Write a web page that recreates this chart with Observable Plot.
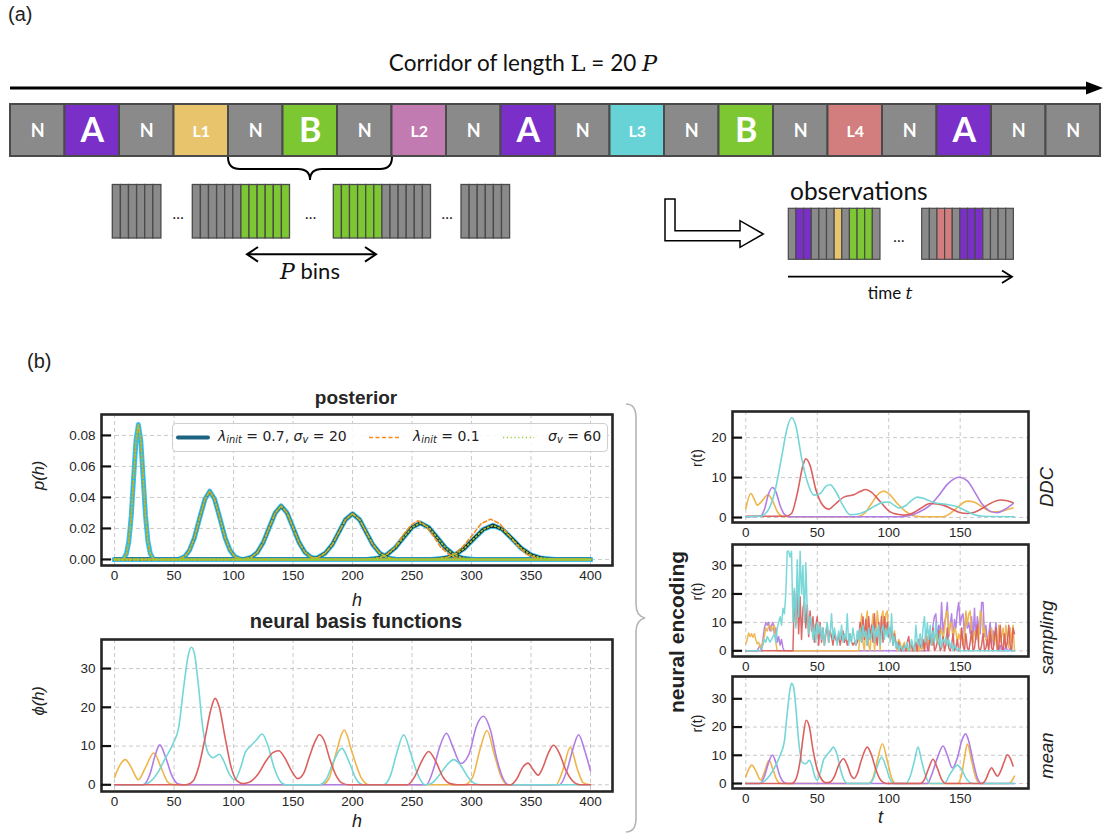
<!DOCTYPE html>
<html><head><meta charset="utf-8">
<script src="https://cdn.jsdelivr.net/npm/d3@7"></script>
<script src="https://cdn.jsdelivr.net/npm/@observablehq/plot@0.6"></script>
<style>
html,body{margin:0;padding:0;background:#fff;}
#root{position:relative;width:1109px;height:836px;overflow:hidden;font-family:"Liberation Sans",Arial,sans-serif;color:#222;}
.lbl{position:absolute;white-space:nowrap;line-height:1;}
.plotsvg{position:absolute;overflow:visible;}
sub{font-size:70%;vertical-align:-0.25em;}
</style></head>
<body><div id="root"></div>
<script>
// ---------------- DATA ----------------
// (a) corridor
const corridorLabels = ["N","A","N","L1","N","B","N","L2","N","A","N","L3","N","B","N","L4","N","A","N","N"];
const segColor = {N:"#8a8a8a", A:"#7b2fc9", B:"#7dc832", L1:"#e8c56c", L2:"#c27bb0", L3:"#67d3d6", L4:"#d37e7e"};
const binGroups = [
  ["N","N","N","N","N","N"],
  ["N","N","N","N","N","N","B","B","B","B","B","B"],
  ["B","B","B","B","B","B","N","N","N","N","N","N"],
  ["N","N","N","N","N","N"]
];
const obsGroups = [
  ["N","A","A","N","N","N","L1","N","B","B","B","N"],
  ["N","N","L4","L4","N","A","A","A","N","N","N","N"]
];

// (b) posterior p(h): six bumps, [h, p]
const postMain = [
  [[0,0],[7,0],[8,0.001],[10,0.0038],[12,0.0118],[14,0.0281],[16,0.0528],[18,0.0768],[20,0.087],[22,0.0768],[24,0.0528],[26,0.0281],[28,0.0118],[30,0.0038],[32,0.001],[33,0],[400,0]],
  [[0,0],[53,0],[55,0.0004],[59,0.0019],[63,0.006],[67,0.0138],[71.5,0.0267],[76,0.039],[80,0.044],[84,0.039],[88.5,0.0267],[93,0.0138],[97,0.006],[101,0.0019],[105,0.0004],[107,0],[400,0]],
  [[0,0],[108,0],[110,0.0004],[115,0.0015],[120,0.0046],[125,0.011],[130,0.0206],[135,0.030],[140,0.0345],[145,0.030],[150,0.0206],[155,0.011],[160,0.0046],[165,0.0015],[170,0.0004],[173,0],[400,0]],
  [[0,0],[163,0],[166,0.0004],[171,0.0013],[177,0.004],[183,0.0096],[188.5,0.0176],[194,0.0256],[200,0.0295],[206,0.0256],[211.5,0.0176],[217,0.0096],[223,0.004],[229,0.0013],[234,0.0004],[237,0],[400,0]],
  [[0,0],[212,0],[215,0.0003],[222,0.001],[229,0.0032],[236,0.0076],[243,0.0143],[250,0.0207],[257,0.0235],[264,0.0207],[271,0.0143],[278,0.0076],[285,0.0032],[292,0.001],[299,0.0003],[303,0],[400,0]],
  [[0,0],[266,0],[270,0.0003],[278,0.001],[286,0.003],[294,0.0071],[302,0.0134],[310,0.0194],[318,0.022],[326,0.0194],[334,0.0134],[342,0.0071],[350,0.003],[358,0.001],[366,0.0003],[370,0],[400,0]]
];
const postLowLambda = [
  postMain[0], postMain[1], postMain[2], postMain[3],
  [[0,0],[214,0],[217,0.0003],[223,0.001],[229,0.0034],[236,0.008],[242,0.0152],[249,0.022],[255,0.025],[261,0.022],[268,0.0152],[274,0.008],[281,0.0034],[287,0.001],[293,0.0003],[296,0],[400,0]],
  [[0,0],[268,0],[271,0.0003],[278,0.001],[286,0.0035],[293,0.0085],[301,0.016],[308,0.023],[316,0.026],[324,0.023],[331,0.016],[339,0.0085],[346,0.0035],[354,0.001],[361,0.0003],[364,0],[400,0]]
];
const postWideSigma = postMain;
const postBumpColors = ["#2ab4e6","#2a93bb","#237493","#1e5c74","#1b4150","#1a2c33"];

// neural basis functions phi(h), [h, phi]
const basisYellow = [[0,1.9],[4,4.8],[9,6.5],[14,4.5],[20,1.3],[26,4.5],[33,8.2],[39,4.5],[44,1],[48,0.1],[52,0],[174,0],[180,1.5],[186,8],[193,14.1],[200,8],[207,2],[214,0],[294,0],[301,2],[307,9],[313,14],[319,8],[325,2],[331,0],[371,0],[377,4],[383,9.7],[389,4],[394,0.5],[400,0]];
const basisPurple = [[0,0],[24,0],[30,3],[34,7.5],[38,10.3],[43,7],[48,2.5],[53,0.3],[58,0],[262,0],[268,4],[273,9.5],[279,13.3],[284,10],[291,5.5],[298,8],[304,15],[310,17.7],[316,14],[321,7],[326,2],[331,0],[374,0],[380,3.5],[385,9],[390,12.9],[395,9],[400,3.6]];
const basisCyan = [[0,0],[24,0],[30,0.8],[36,3],[42,6.5],[49,10.5],[54,15],[58,25],[62,33.5],[64.5,35.5],[67,34],[70,27],[74,15],[79,8],[83,7],[88,7.9],[92,6],[96,3],[101,1.3],[106,4.5],[110,8.5],[114,9.9],[119,11.5],[124,13.1],[129,10],[134,4.5],[139,1],[144,0],[172,0],[178,1.5],[184,6],[191,9.4],[197,6],[203,1.5],[209,0],[226,0],[232,2.5],[237,8],[243,12.9],[249,8],[255,2.5],[261,0],[267,0.5],[273,2.5],[279,5],[285,6.5],[291,5],[297,2],[303,0.3],[308,0],[400,0]];
const basisRed = [[0,0],[60,0],[66,1],[71,5],[76,12],[81,19.5],[84.5,22.3],[88,20],[93,12],[98,4.5],[103,1],[108,0.3],[112,0.5],[120,2.5],[127,6],[133,8.3],[138,8.8],[143,7],[148,4],[154,1.6],[159,3],[164,7.5],[169,11.5],[172,12.9],[176,11.5],[181,6.5],[186,2.5],[191,0.5],[197,0],[246,0],[252,2],[258,6],[264,8.6],[270,6],[276,2],[282,0.3],[288,0],[333,0],[338,1.5],[343,4.5],[347.5,5.6],[352,3.8],[356,2.5],[360,4.5],[365,8.5],[369,10.2],[374,8],[379,4],[385,1],[391,0],[400,0]];

// DDC r(t), [t, r]
const ddcCyan = [[0,0.2],[10,0.3],[15,1.5],[20,6],[25,15],[29,22.5],[32,25],[35,23],[39,15],[43,9],[47.7,5.6],[52,6],[56,7.8],[59,8.2],[63,6.5],[68,3],[73,0.7],[78,0.8],[84,1.6],[90,2.8],[96,3.8],[100,3.9],[104,3],[107,2.4],[112,3],[116,4.3],[120,5.1],[126,4.6],[132,3.7],[140,3.3],[148,2.7],[155,1.5],[160,0.7],[166,0.3],[188,0.2]];
const ddcRed = [[0,0.3],[28,0.3],[32,1],[36,6],[40,13],[42,14.7],[45,13],[49,7],[53,3.5],[58,2.1],[63,3.5],[68.6,5.1],[75.6,5.7],[80,6.5],[84,7],[88,6.3],[94,4],[101,1.4],[106,0.8],[110.5,0.6],[116,1],[122,2.2],[129,3.5],[134,3.4],[138,3.1],[145,2],[150,1.2],[155,1.0],[160,1.3],[165,2.2],[171,3.5],[178,4.4],[183,4.2],[187,3.7]];
const ddcYellow = [[0,2.2],[3.5,6],[6,4.5],[8,3.1],[11,4],[15.6,5.7],[19,4],[22,1.5],[25.6,0.3],[30,0.2],[78,0.2],[83,1],[88,3.5],[93,6],[96.5,6.6],[100,6],[106,3.5],[112,1.5],[118,0.4],[124,0.2],[138,0.2],[143,1],[148,2.5],[155,4.1],[160,3.8],[166,2.5],[172,1.4],[178,1.5],[183,2],[187,2.4]];
const ddcPurple = [[0,0.2],[10,0.3],[13,2],[16,6],[18.6,7.5],[21,6.5],[24,3],[27,0.8],[30,0.2],[108,0.2],[115,0.5],[122,1.5],[129,3.1],[135,5.5],[141,8.3],[149,10.1],[155,9.2],[160,6.5],[165,3.5],[171,1.6],[176,1.2],[181,2],[187,3.5]];

// sampling r(t): [start t, values at consecutive t], zero elsewhere
const sampYellow = [
  [0, [2.5,4,6.3,5,6,4.8,6,4,2.5,3, 1.2,2,3,5,8,7,8.5,9,7,8, 9,3,0]],
  [80, [6,13,3,0,10,14,2,0,8,13, 0,5,14,9,0,12,14,6,13,14, 5,8,6,3,7,2,0,4,3,0, 2,3,0,1,0,2,0,0,0,1,
        0,0,2,0,3,0,4,5,2,3, 5,2,4,6,3,7,5,8,4,7, 13,14,6,9,10,4,8,7,3,6, 4,8,2,5,14,9,13,14,6,3,
        7,5,8,3,14,13,6,8,4,2, 6,3,8,4,2,7,1,9,3,5, 8,2,9,4,1,8,3,9,0]]
];
const sampPurple = [
  [9, [1, 2,0,4,8,10,9,10,7,9,10, 6,8,3,5,2,4,1,0]],
  [128, [3,6,2,9,12,13,4,9,6,17,6,10, 12,17,5,9,13,4,11,8,14,17, 9,12,13,5,13,8,10,6,12,3,
         15,4,12,8,6,17,17,5,9,3, 6,10,2,7,4,10,3,0,2,0, 1,0,2,0,0,1,0,0,0]]
];
const sampRed = [
  [34, [21,9,20,6,19,4,15,17,8,16, 5,14,7,12,3,9,12,2,10,3, 8,2,6,9,3,7,5,2,6,4, 3,6,2,5,7,3,5,2,4,6,
        3,2,3,2,3,5,10,3,12,4, 11,2,12,4,9,3,13,5,2,10, 4,12,3,12,6,10,5,8,7,2, 6,3,1,3,1,0,1,2,0,3,
        5,1,2,0,1,3,0,4,2,1, 4,0,7,1,0,6,2,8,0,1, 3,7,0,1,5,0,2,8,1,0, 2,6,0,1,4,0,1,8,2,0,
        6,1,0,3,7,0,1,5,9,1, 0,2,6,0,1,4,0,7,1,0, 5,8,0,1,9,2,0,6,1,3, 9,2,0,8,6]]
];
const sampCyan = [
  [11, [1,2,4,3,5,4,3,4,5, 6,3,8,10,12,9,15,13,20,35, 35,33,35,10,22,8,32,12,35,20, 30,10,31,14,6,12,10,4,9,3,
        10,6,9,4,8,2,7,10,3,6, 13,4,8,5,2,7,4,9,3,6, 4,13,2,6,3,8,4,2,7,4, 8,3,9,5,7,2,8,4,6,9,
        3,8,5,9,2,7,9,4,8,5, 9,3,13,2,5,1,3,0,2,1, 0,2,1,3,0,1,4,2,0,9, 3,2,6,1,8,12,3,10,4,9,
        2,7,3,10,5,2,6,1,4,3, 5,2,4,1,3,0,2,1,0,1]]
];
const sampLength = 189;

// mean r(t), [t, r]
const meanYellow = [[0,2.4],[2,5],[4.2,6.5],[7,4.5],[10.5,1.2],[13,4],[16.3,8.2],[19,5],[22,1],[25,0],[86,0],[89,2],[92,8],[95.6,14.1],[99,8],[102,2],[105,0],[148,0],[151,3],[153,9],[155,14],[158,8],[161,2],[164,0],[184,0],[186,0.8],[188,2.6]];
const meanPurple = [[0,0],[10,0],[13,2.5],[16,7.5],[18.6,10.1],[21,7.5],[24,2.5],[27,0.3],[29,0],[127,0],[130,3],[134,9],[138,13.3],[141,10],[144.5,5.5],[148,9],[151,15],[153.8,17.6],[156,15],[159,8],[162,2],[165,0],[188,0]];
const meanCyan = [[0,0],[10,0],[13,0.8],[17,3],[21,6.5],[24.5,10.6],[27,15],[29,25],[31,33.5],[32,35.5],[33.5,34],[35,27],[37,15],[39.6,7.4],[42,7],[44.3,8.2],[46.5,6],[48,3],[50,1.2],[52.5,4.5],[54.5,8.5],[56,9.6],[59,11.5],[61.3,12.9],[64,10],[66.5,4.5],[69,1],[71,0],[86,0],[89,1.5],[92,6],[95,9.4],[98,6],[101,1.5],[104,0],[112,0],[115,2.5],[118,8],[120.5,12.9],[123,8],[126,2.5],[129,0],[138,0],[140,0.5],[142,2.5],[145,5],[148,6.5],[151,5],[154,2],[157,0.3],[160,0],[188,0]];
const meanRed = [[0,0],[32,0],[35,1.5],[38,8],[40,16],[42.2,22.4],[44.5,20],[47,12],[50,5],[53,1.5],[56,0.3],[59,0.5],[62,2.5],[65,6.5],[68.3,8.8],[71,6.5],[73.5,3],[75.8,1.8],[78,3.5],[81,8.5],[85,12.9],[88,10],[91,5],[94,1.5],[97,0.2],[100,0],[122,0],[125,1.5],[128,5.5],[131,8.6],[134,5.5],[137,1.5],[140,0],[165,0],[168,1.5],[170,4],[172,5.6],[174,4],[176,2.6],[178,4],[181,8],[183,10.2],[185,9],[187,6.2]];

// ticks
const hTicks = [0,50,100,150,200,250,300,350,400];
const pTicks = [0,0.02,0.04,0.06,0.08];
const phiTicks = [0,10,20,30];
const tTicks = [0,50,100,150];
const ddcTicks = [0,10,20];
const rTicks = [0,10,20,30];

const C = {cyan:"#74d6d7", red:"#db6060", purple:"#b27de3", yellow:"#efb54a"};

// ---------------- HELPERS ----------------
const root = document.getElementById("root");
function put(el, left, top) { el.classList.add("plotsvg"); el.style.left = left+"px"; el.style.top = top+"px"; root.appendChild(el); return el; }
function label(html, x, y, css, transform) {
  const d = document.createElement("div"); d.className = "lbl"; d.innerHTML = html;
  d.style.left = x+"px"; d.style.top = y+"px";
  d.style.transform = transform || "translate(-50%,-50%)";
  Object.assign(d.style, css || {}); root.appendChild(d); return d;
}
function segSeries(segs, n) {
  const out = new Array(n).fill(0);
  for (const [s, vals] of segs) vals.forEach((v,i) => { if (s+i < n) out[s+i] = v; });
  return out.map((v,t) => [t, v]);
}
const X = d => d[0], Y = d => d[1];

function chart(o) {
  const fw = o.width - o.ml - o.mr;
  const tickLen = 10 * (o.xDomain[1]-o.xDomain[0]) / fw;
  const fs = o.tickFont || 13.5;
  const marks = [
    Plot.gridX(o.xTicks, {stroke:"#c9c9c9", strokeOpacity:1, strokeDasharray:"4,3", strokeWidth:1}),
    Plot.gridY(o.yTicks, {stroke:"#c9c9c9", strokeOpacity:1, strokeDasharray:"4,3", strokeWidth:1}),
    ...o.marks,
    Plot.frame({stroke:"#262626", strokeWidth:2.6}),
    Plot.ruleY(o.yTicks, {x1: () => o.xDomain[0], x2: () => o.xDomain[0] + tickLen, stroke:"#111", strokeWidth:2.2}),
    Plot.axisX(o.xTicks, {tickSize:0, tickPadding:5, label:null, fontSize:fs}),
    Plot.axisY(o.yTicks, {tickSize:0, tickPadding:6, label:null, fontSize:fs, tickFormat: o.yFmt || (d => d)}),
  ];
  if (o.yLabel) marks.push(Plot.text([o.yLabel], {text: d => d, frameAnchor:"left", dx:o.yLabelDx, rotate:-90, fontStyle:o.yItalic ? "italic" : "normal", fontSize:o.yLabelSize || 16.5, fill:"#222"}));
  if (o.xLabel) marks.push(Plot.text([o.xLabel], {text: d => d, frameAnchor:"bottom", dy:o.xLabelDy, fontStyle:"italic", fontSize:18, fill:"#222"}));
  if (o.sideLabel) marks.push(Plot.text([o.sideLabel], {text: d => d, frameAnchor:"right", dx:19, rotate:-90, fontStyle:"italic", fontSize:18.5, fill:"#222"}));
  const svg = Plot.plot({
    width:o.width, height:o.height, marginTop:o.mt, marginRight:o.mr, marginBottom:o.mb, marginLeft:o.ml,
    x:{domain:o.xDomain}, y:{domain:o.yDomain},
    style:{fontFamily:'"Liberation Sans", Arial, sans-serif', fontSize:fs+"px", color:"#262626", background:"transparent", overflow:"visible"},
    marks
  });
  return put(svg, o.left, o.top);
}
const smooth = (data, stroke, w) => Plot.line(data, {x:X, y:Y, stroke, strokeWidth:w || 1.6, curve:"monotone-x"});

// ---------------- PART (a) ----------------
const boxW = 54.5, boxX0 = 10, boxY0 = 104, boxY1 = 156;
const corridorRects = corridorLabels.map((lab,i) => ({lab, x1: boxX0 + i*boxW, x2: boxX0 + (i+1)*boxW}));
const binW = 8.1, binY0 = 184.5, binY1 = 238;
const binStarts = [112.3, 192.3, 333.3, 461];
const binRects = binGroups.flatMap((g,gi) => g.map((lab,i) => ({lab, x1: binStarts[gi] + i*binW, x2: binStarts[gi] + (i+1)*binW, y1: binY0, y2: binY1})));
const obsW = 7.64, obsStarts = [788.3, 921.7], obsY0 = 208.3, obsY1 = 259.3;
const obsRects = obsGroups.flatMap((g,gi) => g.map((lab,i) => ({lab, x1: obsStarts[gi] + i*obsW, x2: obsStarts[gi] + (i+1)*obsW, y1: obsY0, y2: obsY1})));
const dots = [{x:177.7, y:214}, {x:310, y:214}, {x:446.7, y:214}, {x:898.3, y:237}];

const partA = Plot.plot({
  width:1109, height:310, margin:0,
  x:{type:"identity", axis:null}, y:{type:"identity", axis:null}, color:{type:"identity"},
  style:{background:"transparent", overflow:"visible", fontFamily:"Lato, 'Open Sans', sans-serif"},
  marks:[
    Plot.rect(corridorRects, {x1:"x1", x2:"x2", y1:() => boxY0, y2:() => boxY1, fill:d => segColor[d.lab], stroke:"#4a4a4a", strokeWidth:2}),
    Plot.text(corridorRects, {x:d => (d.x1+d.x2)/2, y:() => (boxY0+boxY1)/2 + 1, text:"lab", fill:"white", fontWeight:"bold",
      fontSize:d => (d.lab === "A" || d.lab === "B") ? 34 : (d.lab.length > 1 ? 16 : 18)}),
    Plot.rect(binRects, {x1:"x1", x2:"x2", y1:"y1", y2:"y2", fill:d => segColor[d.lab], stroke:"#4a4a4a", strokeWidth:1.3}),
    Plot.rect(obsRects, {x1:"x1", x2:"x2", y1:"y1", y2:"y2", fill:d => segColor[d.lab], stroke:"#4a4a4a", strokeWidth:1.2}),
    Plot.text(dots, {x:"x", y:"y", text:() => "…", fontSize:15, fill:"#222"})
  ]
});
put(partA, 0, 0);

// decorations (arrows, braces)
const deco = document.createElementNS("http://www.w3.org/2000/svg","svg");
deco.setAttribute("width","1109"); deco.setAttribute("height","836");
deco.style.cssText = "position:absolute;left:0;top:0;pointer-events:none;";
deco.innerHTML = `
 <line x1="10" y1="88" x2="1090" y2="88" stroke="#000" stroke-width="3"/>
 <polygon points="1086,81.5 1103,88 1086,94.5" fill="#000"/>
 <path d="M228,157 Q228,169 240,169 L298,169 Q310,169 310,180 Q310,169 322,169 L380,169 Q392,169 392,157" fill="none" stroke="#000" stroke-width="2"/>
 <line x1="248" y1="254.3" x2="375" y2="254.3" stroke="#000" stroke-width="2"/>
 <polyline points="258,247 247,254.3 258,261.6" fill="none" stroke="#000" stroke-width="2"/>
 <polyline points="365,247 376,254.3 365,261.6" fill="none" stroke="#000" stroke-width="2"/>
 <path d="M665,199 L675,199 L675,230.7 L740,230.7 L740,220.7 L763.3,234 L740,247.3 L740,240.7 L665,240.7 Z" fill="#fff" stroke="#000" stroke-width="1.5"/>
 <line x1="788" y1="276.7" x2="1011" y2="276.7" stroke="#000" stroke-width="1.8"/>
 <polyline points="1002,270.5 1012,276.7 1002,282.9" fill="none" stroke="#000" stroke-width="1.8"/>
 <path d="M626,404 Q636,404 636,418 L636,604 Q636,616 645,618 Q636,620 636,632 L636,818 Q636,832 626,832" fill="none" stroke="#b5b5b5" stroke-width="1.6"/>
`;
root.appendChild(deco);

label("(a)", 8, 4, {fontSize:"20px"}, "none");
label('Corridor of length <span style="font-family:\'DejaVu Serif\',serif">L</span> = 20 <span style="font-family:\'DejaVu Serif\',serif;font-style:italic">P</span>', 523, 63, {fontSize:"22.5px", fontFamily:"Lato, sans-serif", color:"#111"});
label('<span style="font-family:\'DejaVu Serif\',serif;font-style:italic">P</span> bins', 310, 271, {fontSize:"22px", fontFamily:"Lato, sans-serif", color:"#111"});
label("observations", 790, 191, {fontSize:"24.5px", fontFamily:"Lato, sans-serif", color:"#111"}, "translate(0,-50%)");
label('time <span style="font-family:\'DejaVu Serif\',serif;font-style:italic">t</span>', 890, 293, {fontSize:"17px", fontFamily:"Lato, sans-serif", color:"#111"});

// ---------------- PART (b) ----------------
label("(b)", 27, 351, {fontSize:"20px"}, "none");
label("posterior", 356, 397, {fontSize:"19px", fontWeight:"bold", color:"#262626"});
label("neural basis functions", 356, 621, {fontSize:"20px", fontWeight:"bold", color:"#262626"});
label("neural encoding", 676, 632, {fontSize:"21px", fontWeight:"bold", color:"#222"}, "translate(-50%,-50%) rotate(-90deg)");

// posterior
const postMarks = [];
postMain.forEach(b => postMarks.push(Plot.line(b, {x:X, y:Y, stroke:"#3ec2f0", strokeWidth:5})));
postMain.map((b,i) => [b,i]).reverse().forEach(([b,i]) => postMarks.push(Plot.line(b, {x:X, y:Y, stroke:postBumpColors[i], strokeWidth:3.2})));
postLowLambda.forEach(b => postMarks.push(Plot.line(b, {x:X, y:Y, stroke:"#f58a1f", strokeWidth:1.6, strokeDasharray:"4,2.5"})));
postWideSigma.forEach(b => postMarks.push(Plot.line(b, {x:X, y:Y, stroke:"#9acd32", strokeWidth:1.6, strokeDasharray:"1.2,2.6"})));
chart({left:40, top:404, width:590, height:206, mt:10, mr:18, mb:45, ml:61,
  xDomain:[-11, 418.5], yDomain:[-0.0039, 0.0935], xTicks:hTicks, yTicks:pTicks, yFmt:d3.format(".2f"),
  marks:postMarks, yLabel:"p(h)", yLabelDx:-63, yItalic:true, xLabel:"h", xLabelDy:40});

// posterior legend
const leg = document.createElement("div");
leg.style.cssText = "position:absolute;left:172px;top:423px;width:434px;height:27px;border:1px solid #cfcfcf;border-radius:4px;background:rgba(255,255,255,0.85);font-family:'DejaVu Sans',sans-serif;font-size:14px;color:#222;";
leg.innerHTML = `
 <svg style="position:absolute;left:0;top:0" width="434" height="27">
  <line x1="5" y1="13.5" x2="35" y2="13.5" stroke="#1d6482" stroke-width="4" stroke-linecap="round"/>
  <line x1="196" y1="13.5" x2="228" y2="13.5" stroke="#f58a1f" stroke-width="1.6" stroke-dasharray="4,2.5"/>
  <line x1="330" y1="13.5" x2="361" y2="13.5" stroke="#9acd32" stroke-width="1.6" stroke-dasharray="1.2,2.6"/>
 </svg>
 <div class="lbl" style="left:45px;top:5px"><i>λ<sub>init</sub></i> = 0.7, <i>σ<sub>v</sub></i> = 20</div>
 <div class="lbl" style="left:240px;top:5px"><i>λ<sub>init</sub></i> = 0.1</div>
 <div class="lbl" style="left:375px;top:5px"><i>σ<sub>v</sub></i> = 60</div>`;
root.appendChild(leg);

// neural basis functions
chart({left:40, top:629, width:590, height:207, mt:10, mr:18, mb:45, ml:61,
  xDomain:[-11, 418.5], yDomain:[-1.73, 37.5], xTicks:hTicks, yTicks:phiTicks,
  marks:[smooth(basisYellow, C.yellow), smooth(basisPurple, C.purple), smooth(basisCyan, C.cyan), smooth(basisRed, C.red)],
  yLabel:"ϕ(h)", yLabelDx:-63, yItalic:true, xLabel:"h", xLabelDy:35});

// DDC
chart({left:680, top:400, width:429, height:145, mt:11, mr:81, mb:23, ml:52,
  xDomain:[-9.3, 197.8], yDomain:[-1.25, 26.55], xTicks:tTicks, yTicks:ddcTicks,
  marks:[smooth(ddcYellow, C.yellow), smooth(ddcPurple, C.purple), smooth(ddcRed, C.red), smooth(ddcCyan, C.cyan)],
  yLabel:"r(t)", yLabelDx:-35, yLabelSize:14, sideLabel:"DDC"});

// sampling
const sl = (segs, c) => Plot.line(segSeries(segs, sampLength), {x:X, y:Y, stroke:c, strokeWidth:1.5, strokeOpacity:0.95});
chart({left:680, top:533, width:429, height:145, mt:11, mr:81, mb:22, ml:52,
  xDomain:[-9.3, 197.8], yDomain:[-2.0, 37.4], xTicks:tTicks, yTicks:rTicks,
  marks:[sl(sampPurple, C.purple), sl(sampYellow, C.yellow), sl(sampRed, C.red), sl(sampCyan, C.cyan)],
  yLabel:"r(t)", yLabelDx:-35, yLabelSize:14, sideLabel:"sampling"});

// mean
chart({left:680, top:665, width:429, height:171, mt:11, mr:81, mb:48, ml:52,
  xDomain:[-9.3, 197.8], yDomain:[-1.76, 37.9], xTicks:tTicks, yTicks:rTicks,
  marks:[smooth(meanYellow, C.yellow), smooth(meanPurple, C.purple), smooth(meanCyan, C.cyan), smooth(meanRed, C.red)],
  yLabel:"r(t)", yLabelDx:-35, yLabelSize:14, xLabel:"t", xLabelDy:34, sideLabel:"mean"});
</script></body></html>
